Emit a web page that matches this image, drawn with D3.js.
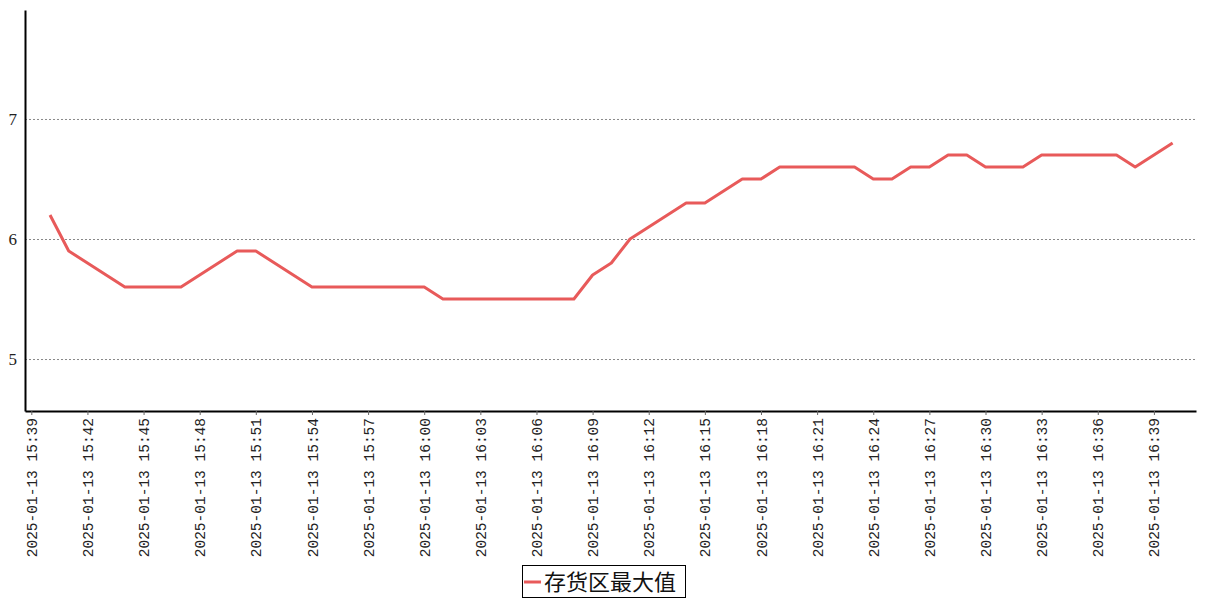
<!DOCTYPE html>
<html><head><meta charset="utf-8">
<script src="https://cdn.jsdelivr.net/npm/d3@7"></script>
<style>body{margin:0;background:#fff}svg{display:block}</style>
</head><body><svg id="c" width="1207" height="600"></svg>
<script>
const seriesName = "存货区最大值";
const startTime = "2025-01-13 15:40";
const values = [6.2,5.9,5.8,5.7,5.6,5.6,5.6,5.6,5.7,5.8,5.9,5.9,5.8,5.7,5.6,5.6,5.6,5.6,5.6,5.6,5.6,
  5.5,5.5,5.5,5.5,5.5,5.5,5.5,5.5,5.7,5.8,6.0,6.1,6.2,6.3,6.3,6.4,6.5,6.5,6.6,6.6,6.6,6.6,6.6,
  6.5,6.5,6.6,6.6,6.7,6.7,6.6,6.6,6.6,6.7,6.7,6.7,6.7,6.7,6.6,6.7,6.8];
const yTicks = [5,6,7];
const xTickLabels = ["2025-01-13 15:39","2025-01-13 15:42","2025-01-13 15:45","2025-01-13 15:48","2025-01-13 15:51",
  "2025-01-13 15:54","2025-01-13 15:57","2025-01-13 16:00","2025-01-13 16:03","2025-01-13 16:06","2025-01-13 16:09",
  "2025-01-13 16:12","2025-01-13 16:15","2025-01-13 16:18","2025-01-13 16:21","2025-01-13 16:24","2025-01-13 16:27",
  "2025-01-13 16:30","2025-01-13 16:33","2025-01-13 16:36","2025-01-13 16:39"];

const parse = d3.timeParse("%Y-%m-%d %H:%M");
const t0 = parse(startTime);
const data = values.map((v,i)=>({t:new Date(t0.getTime()+i*60000), v}));
const tickDates = xTickLabels.map(parse);

const svg = d3.select("#c");
const L=25, R=1196, T=10, B=411;
const x = d3.scaleTime()
  .domain([new Date(tickDates[0].getTime()-0.337*60000), new Date(tickDates[0].getTime()+62.25*60000)])
  .range([L,R]);
const y = d3.scaleLinear().domain([4.567,7.908]).range([B,T]);

// grid
svg.append("g").selectAll("line").data(yTicks).join("line")
  .attr("x1",L).attr("x2",R).attr("y1",d=>y(d)+0.5).attr("y2",d=>y(d)+0.5)
  .attr("stroke","#888").attr("stroke-width",1).attr("stroke-dasharray","2,2");

// y axis
const ya = svg.append("g").attr("transform",`translate(${L},0)`)
  .call(d3.axisLeft(y).tickValues(yTicks).tickSize(0).tickPadding(8).tickFormat(d3.format("d")));
ya.select(".domain").attr("stroke","#000").attr("stroke-width",2);
ya.selectAll("text").attr("font-family","'Liberation Serif', serif").attr("font-size",17).attr("fill","#222");

// x axis
const xa = svg.append("g").attr("transform",`translate(0,${B})`)
  .call(d3.axisBottom(x).tickValues(tickDates).tickSize(4).tickSizeOuter(0)
    .tickFormat((d,i)=>xTickLabels[i]));
xa.select(".domain").attr("stroke","#000").attr("stroke-width",2);
xa.selectAll(".tick line").attr("stroke","#666");
xa.selectAll("text")
  .attr("font-family","'Liberation Mono', monospace").attr("font-size",14.5).attr("fill","#222")
  .attr("text-anchor","end").attr("dy","0.35em")
  .attr("transform","translate(0,7) rotate(-90)").attr("x",0).attr("y",0);

// line
svg.append("path").datum(data)
  .attr("fill","none").attr("stroke","#e85a5a").attr("stroke-width",3)
  .attr("stroke-linejoin","round")
  .attr("d", d3.line().x(d=>x(d.t)).y(d=>y(d.v)));

// legend
const lg = svg.append("g");
lg.append("rect").attr("x",522.5).attr("y",565.5).attr("width",163).attr("height",32)
  .attr("fill","#fff").attr("stroke","#000").attr("stroke-width",1);
lg.append("line").attr("x1",524).attr("x2",541).attr("y1",582).attr("y2",582)
  .attr("stroke","#e85a5a").attr("stroke-width",3);
lg.append("text").attr("x",544).attr("y",582).attr("dy","0.36em")
  .attr("font-family","'Noto Sans CJK SC', sans-serif").attr("font-size",22).attr("fill","#111")
  .text(seriesName);
</script></body></html>
